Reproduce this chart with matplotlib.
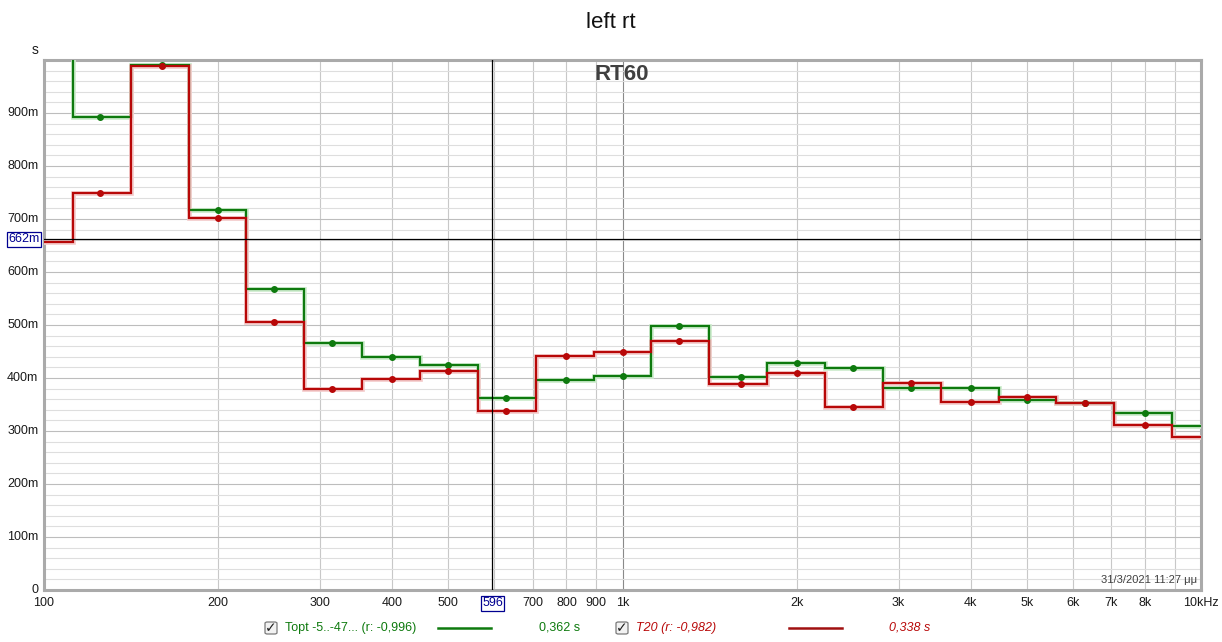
import matplotlib
matplotlib.use("Agg")
import matplotlib.pyplot as plt
from matplotlib.patches import FancyBboxPatch
import numpy as np

plt.rcParams['font.family'] = ['Liberation Sans', 'DejaVu Sans']

# third-octave band centres (Hz)
bands = [100, 125, 160, 200, 250, 315, 400, 500, 630, 800, 1000, 1250,
         1600, 2000, 2500, 3150, 4000, 5000, 6300, 8000, 10000]
# RT60 values (s)
topt = [1.08, 0.892, 0.990, 0.717, 0.567, 0.466, 0.439, 0.425, 0.363, 0.396,
        0.403, 0.499, 0.402, 0.428, 0.418, 0.382, 0.382, 0.358, 0.353, 0.334,
        0.310]
t20 = [0.656, 0.750, 0.988, 0.701, 0.505, 0.380, 0.398, 0.414, 0.338, 0.442,
       0.450, 0.470, 0.388, 0.409, 0.345, 0.390, 0.355, 0.365, 0.352, 0.311,
       0.289]

xtick_vals = [100, 200, 300, 400, 500, 700, 800, 900, 1000, 2000, 3000, 4000,
              5000, 6000, 7000, 8000, 10000]
xtick_labels = ['100', '200', '300', '400', '500', '700', '800', '900', '1k',
                '2k', '3k', '4k', '5k', '6k', '7k', '8k', '10kHz']
ytick_vals = [0, 0.1, 0.2, 0.3, 0.4, 0.5, 0.6, 0.7, 0.8, 0.9]
ytick_labels = ['0', '100m', '200m', '300m', '400m', '500m', '600m', '700m',
                '800m', '900m']

cursor_f = 596
cursor_v = 0.662

W, H = 1222, 642
fig = plt.figure(figsize=(W / 100, H / 100), dpi=100)
fig.patch.set_facecolor('white')


def fx(px):
    return px / W


def fy(py):
    return 1 - py / H


ax = fig.add_axes([fx(44), fy(590), (1201 - 44) / W, (590 - 60) / H])
ax.set_xscale('log')
ax.set_xlim(100, 10000)
ax.set_ylim(0, 1.0)

# grid
for f in list(range(100, 1000, 100)) + list(range(1000, 10001, 1000)):
    col = '#8a8a8a' if f == 1000 else '#c8c8c8'
    ax.axvline(f, color=col, lw=0.8, zorder=1)
for v in np.arange(0.02, 1.0, 0.02):
    major = abs(v * 10 - round(v * 10)) < 1e-6
    ax.axhline(v, color='#bdbdbd' if major else '#dedede', lw=0.8, zorder=1)

# band edges
centres = np.array([1000 * 10 ** (n / 10) for n in range(-10, 11)])
edges = np.concatenate([[centres[0] / 10 ** 0.05],
                        np.sqrt(centres[:-1] * centres[1:]),
                        [centres[-1] * 10 ** 0.05]])

green = '#0e7a0e'
red = '#b80808'
# soft halos first, then lines
ax.stairs(topt, edges, baseline=None, color='#cdeccd', lw=3.4, zorder=3)
ax.stairs(t20, edges, baseline=None, color='#f4cccc', lw=3.4, zorder=3)
ax.stairs(topt, edges, baseline=None, color=green, lw=1.6, zorder=4)
ax.stairs(t20, edges, baseline=None, color=red, lw=1.6, zorder=5)

inner = [(b > 100) and (b < 10000) for b in bands]
bx = [b for b, k in zip(bands, inner) if k]
ax.plot(bx, [v for v, k in zip(topt, inner) if k], 'o', color=green, ms=4,
        zorder=6)
ax.plot(bx, [v for v, k in zip(t20, inner) if k], 'o', color=red, ms=4,
        zorder=7)

# cursors
ax.axvline(cursor_f, color='black', lw=0.9, zorder=8)
ax.axhline(cursor_v, color='black', lw=0.9, zorder=8)

ax.set_xticks([])
ax.set_yticks([])
ax.minorticks_off()
for s in ax.spines.values():
    s.set_color('#aaaaaa')
    s.set_linewidth(2.2)

# tick labels as text
for v, lab in zip(xtick_vals, xtick_labels):
    ax.text(v, -0.014, lab, transform=ax.get_xaxis_transform(), ha='center',
            va='top', fontsize=9, color='#1a1a1a')
for v, lab in zip(ytick_vals, ytick_labels):
    ax.text(-0.005, v, lab, transform=ax.get_yaxis_transform(), ha='right',
            va='center', fontsize=9, color='#1a1a1a')

# cursor labels
ax.text(cursor_f, -0.014, '596', transform=ax.get_xaxis_transform(),
        ha='center', va='top', fontsize=9, color='#000090',
        bbox=dict(boxstyle='square,pad=0.12', fc='white', ec='#000090', lw=0.9))
ax.text(-0.004, cursor_v, '662m', transform=ax.get_yaxis_transform(),
        ha='right', va='center', fontsize=9, color='#000090',
        bbox=dict(boxstyle='square,pad=0.12', fc='white', ec='#000090', lw=0.9))

fig.text(fx(35), fy(50), 's', ha='center', va='center', fontsize=10,
         color='#1a1a1a')
fig.text(0.5, fy(22), 'left rt', ha='center', va='center', fontsize=16,
         color='#111111')
fig.text(fx(622), fy(75), 'RT60', ha='center', va='center', fontsize=16,
         fontweight='bold', color='#404040')
fig.text(fx(1197), fy(580), '31/3/2021 11:27 μμ', ha='right', va='center',
         fontsize=8, color='#404040')

# legend row
ly = 628


def checkbox(x0):
    b = FancyBboxPatch((fx(x0), fy(ly + 6)), fx(12), 12 / H,
                       boxstyle='round,pad=0.0,rounding_size=0.002',
                       transform=fig.transFigure, fc='#f2f2f2', ec='#7a7a7a',
                       lw=0.9)
    fig.patches.append(b)
    fig.text(fx(x0 + 6), fy(ly), '✓', ha='center', va='center', fontsize=10,
             color='#202020', fontweight='bold', family='DejaVu Sans')


checkbox(265)
fig.text(fx(285), fy(ly), 'Topt -5..-47... (r: -0,996)', ha='left',
         va='center', fontsize=9, color=green)
fig.lines.append(plt.Line2D([fx(438), fx(491)], [fy(ly), fy(ly)],
                            transform=fig.transFigure, color=green, lw=1.8))
fig.text(fx(560), fy(ly), '0,362 s', ha='center', va='center', fontsize=9,
         color=green)

checkbox(616)
fig.text(fx(636), fy(ly), 'T20 (r: -0,982)', ha='left', va='center',
         fontsize=9, color=red, style='italic')
fig.lines.append(plt.Line2D([fx(789), fx(842)], [fy(ly), fy(ly)],
                            transform=fig.transFigure, color='#a01010', lw=1.8))
fig.text(fx(910), fy(ly), '0,338 s', ha='center', va='center', fontsize=9,
         color=red, style='italic')

fig.savefig('out.png', dpi=100, facecolor='white')
